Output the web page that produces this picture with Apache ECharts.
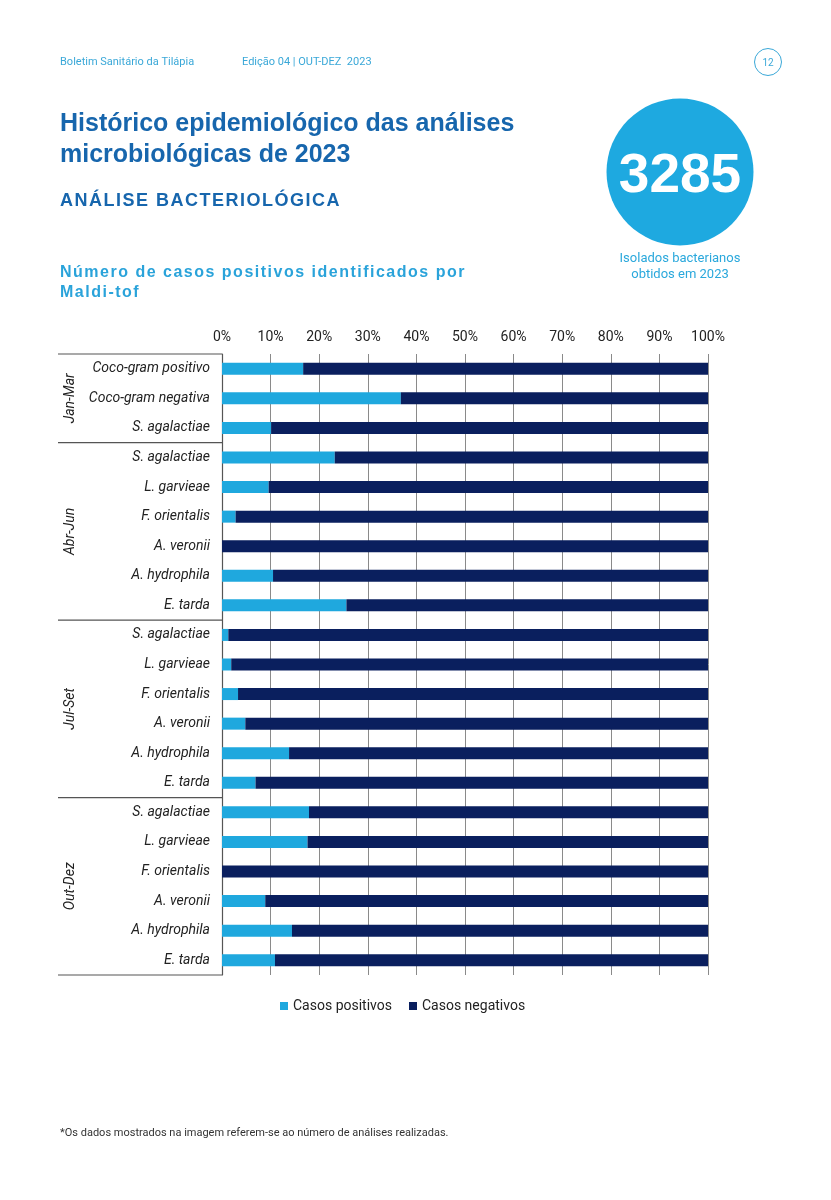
<!DOCTYPE html>
<html>
<head>
<meta charset="utf-8">
<script src="https://cdn.jsdelivr.net/npm/echarts@6/dist/echarts.min.js"></script>
<style>
html,body{margin:0;padding:0;background:#fff;}
#c{width:831px;height:1200px;}
</style>
</head>
<body>
<div id="c"></div>
<script>
// ---- data ----
const groups = ['Jan-Mar', 'Abr-Jun', 'Jul-Set', 'Out-Dez'];
const groupSizes = [3, 6, 6, 6];
const categories = [
  'Coco-gram positivo', 'Coco-gram negativa', 'S. agalactiae',
  'S. agalactiae', 'L. garvieae', 'F. orientalis', 'A. veronii', 'A. hydrophila', 'E. tarda',
  'S. agalactiae', 'L. garvieae', 'F. orientalis', 'A. veronii', 'A. hydrophila', 'E. tarda',
  'S. agalactiae', 'L. garvieae', 'F. orientalis', 'A. veronii', 'A. hydrophila', 'E. tarda'
];
const positivos = [16.7, 36.8, 10.1, 23.2, 9.6, 2.8, 0, 10.5, 25.6, 1.3, 1.9, 3.3, 4.8, 13.8, 6.9, 17.9, 17.6, 0, 8.9, 14.4, 10.9];
const negativos = [83.3, 63.2, 89.9, 76.8, 90.4, 97.2, 100, 89.5, 74.4, 98.7, 98.1, 96.7, 95.2, 86.2, 93.1, 82.1, 82.4, 100, 91.1, 85.6, 89.1];
const xTicks = [0, 10, 20, 30, 40, 50, 60, 70, 80, 90, 100];
const seriesNames = ['Casos positivos', 'Casos negativos'];

const LIGHT = '#1fa8de';
const NAVY = '#0a1f5e';
const TITLE_BLUE = '#1766ad';
const SUB_BLUE = '#2aa3da';

const chart = echarts.init(document.getElementById('c'), null, {renderer: 'canvas'});
const ids = categories.map((_, i) => String(i));

const option = {
  animation: false,
  backgroundColor: '#fff',
  grid: {left: 222, right: 123, top: 354, bottom: 225, containLabel: false},
  legend: {
    data: seriesNames,
    bottom: 182,
    left: 275,
    icon: 'rect',
    itemWidth: 8,
    itemHeight: 8,
    itemGap: 17,
    textStyle: {fontFamily: 'Roboto', fontSize: 14, color: '#222'}
  },
  xAxis: {
    type: 'value',
    position: 'top',
    min: 0, max: 100, interval: 10,
    axisLine: {show: false},
    axisTick: {show: false},
    axisLabel: {formatter: v => xTicks.includes(v) ? v + '%' : '', fontFamily: 'Roboto', fontSize: 14, color: '#222', margin: 10},
    splitLine: {show: true, lineStyle: {color: '#8a8a8a', width: 1}}
  },
  yAxis: {
    type: 'category',
    inverse: true,
    data: ids,
    axisLine: {show: true, lineStyle: {color: '#555', width: 1.2}},
    axisTick: {show: false},
    axisLabel: {
      formatter: v => categories[+v],
      fontFamily: 'Roboto', fontStyle: 'italic', fontSize: 14, color: '#222', margin: 12
    }
  },
  series: [
    {name: seriesNames[0], type: 'bar', stack: 'a', data: positivos, barWidth: 12, itemStyle: {color: LIGHT}},
    {name: seriesNames[1], type: 'bar', stack: 'a', data: negativos, barWidth: 12, itemStyle: {color: NAVY}}
  ]
};
chart.setOption(option);

// group labels and separators from axis scale
const p0 = chart.convertToPixel({yAxisIndex: 0}, 0);
const p1 = chart.convertToPixel({yAxisIndex: 0}, 1);
const band = p1 - p0;
const axisX = chart.convertToPixel({xAxisIndex: 0}, 0);
const g = [];
let start = 0;
const boundaryY = i => chart.convertToPixel({yAxisIndex: 0}, i) - band / 2;
g.push({type: 'line', shape: {x1: 58, y1: boundaryY(0), x2: axisX, y2: boundaryY(0)}, style: {stroke: '#555', lineWidth: 1.2}});
groups.forEach((name, gi) => {
  const end = start + groupSizes[gi];
  const yTop = boundaryY(start);
  const yBot = boundaryY(end);
  g.push({type: 'line', shape: {x1: 58, y1: yBot, x2: axisX, y2: yBot}, style: {stroke: '#555', lineWidth: 1.2}});
  g.push({
    type: 'text', x: 70, y: (yTop + yBot) / 2, rotation: Math.PI / 2,
    style: {text: name, fontFamily: 'Roboto', fontStyle: 'italic', fontSize: 14, fill: '#222', align: 'center', verticalAlign: 'middle'}
  });
  start = end;
});

// letter-spaced text helper (measured per character)
const mctx = document.createElement('canvas').getContext('2d');
function spaced(str, x, y, size, spacing, fill) {
  mctx.font = 'bold ' + size + 'px "Liberation Sans"';
  const out = [];
  let cx = x;
  for (const ch of str) {
    out.push({type: 'text', x: cx, y: y, style: {text: ch, fontFamily: 'Liberation Sans', fontWeight: 'bold', fontSize: size, fill: fill, verticalAlign: 'middle'}});
    cx += mctx.measureText(ch).width + spacing;
  }
  return out;
}

// page decorations
g.push(
  {type: 'text', x: 60, y: 62, style: {text: 'Boletim Sanitário da Tilápia', fontFamily: 'Roboto', fontSize: 11, fill: '#3aa8d8', verticalAlign: 'middle'}},
  {type: 'text', x: 242, y: 62, style: {text: 'Edição 04 | OUT-DEZ  2023', fontFamily: 'Roboto', fontSize: 11, fill: '#3aa8d8', verticalAlign: 'middle'}},
  {type: 'circle', shape: {cx: 768, cy: 62, r: 13.5}, style: {fill: '#fff', stroke: '#3aa8d8', lineWidth: 1}},
  {type: 'text', x: 768, y: 63, style: {text: '12', fontFamily: 'Roboto', fontSize: 10, fill: '#3aa8d8', align: 'center', verticalAlign: 'middle'}},
  {type: 'text', x: 60, y: 124, style: {text: 'Histórico epidemiológico das análises', fontFamily: 'Liberation Sans', fontWeight: 'bold', fontSize: 25, fill: TITLE_BLUE, verticalAlign: 'middle'}},
  {type: 'text', x: 60, y: 155, style: {text: 'microbiológicas de 2023', fontFamily: 'Liberation Sans', fontWeight: 'bold', fontSize: 25, fill: TITLE_BLUE, verticalAlign: 'middle'}},
  ...spaced('ANÁLISE BACTERIOLÓGICA', 60, 201, 18, 1.5, TITLE_BLUE),
  ...spaced('Número de casos positivos identificados por', 60, 273, 16, 1.5, SUB_BLUE),
  ...spaced('Maldi-tof', 60, 293, 16, 1.5, SUB_BLUE),
  {type: 'circle', shape: {cx: 680, cy: 172, r: 73.5}, style: {fill: '#1ea9e0'}},
  {type: 'text', x: 680, y: 177, style: {text: '3285', fontFamily: 'Liberation Sans', fontWeight: 'bold', fontSize: 55, fill: '#fff', align: 'center', verticalAlign: 'middle'}},
  {type: 'text', x: 680, y: 259, style: {text: 'Isolados bacterianos', fontFamily: 'Roboto', fontSize: 13, fill: '#2aa8dc', align: 'center', verticalAlign: 'middle'}},
  {type: 'text', x: 680, y: 275, style: {text: 'obtidos em 2023', fontFamily: 'Roboto', fontSize: 13, fill: '#2aa8dc', align: 'center', verticalAlign: 'middle'}},
  {type: 'text', x: 60, y: 1133, style: {text: '*Os dados mostrados na imagem referem-se ao número de análises realizadas.', fontFamily: 'Roboto', fontSize: 11, fill: '#333', verticalAlign: 'middle'}}
);
chart.setOption({graphic: g});
</script>
</body>
</html>
